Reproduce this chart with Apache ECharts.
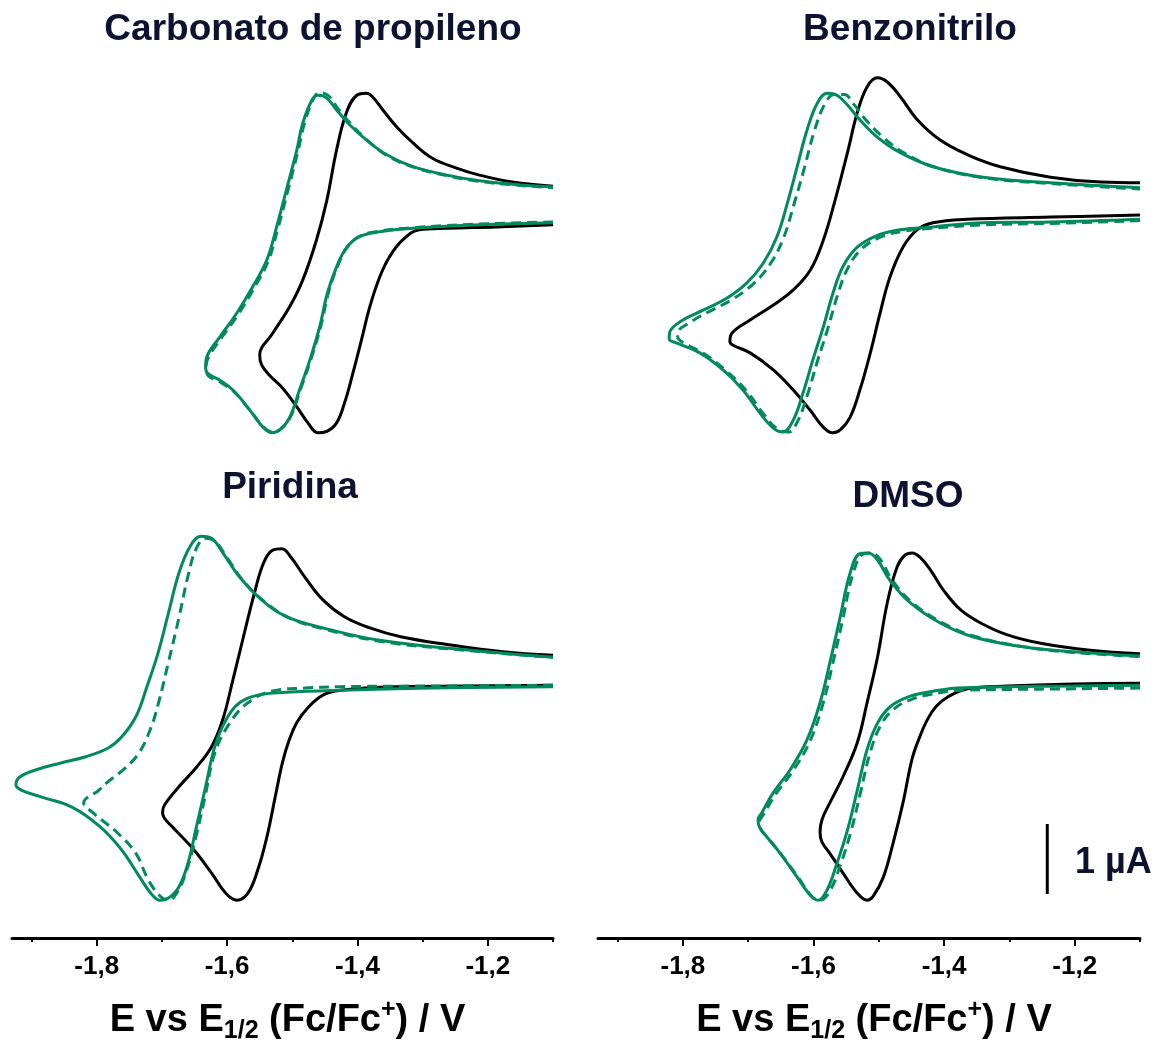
<!DOCTYPE html>
<html><head><meta charset="utf-8">
<script src="https://cdn.jsdelivr.net/npm/echarts@6/dist/echarts.min.js"></script>
<style>html,body{margin:0;padding:0;background:#fff}#c{width:1156px;height:1042px}</style>
</head><body><div id="c"></div>
<script>
// ---------- labels ----------
const panelTitles = ['Carbonato de propileno', 'Benzonitrilo', 'Piridina', 'DMSO'];
const majorTicks = [-1.8, -1.6, -1.4, -1.2];
const minorTicks = [-1.9, -1.7, -1.5, -1.3, -1.1];
const xMin = -1.93, xMax = -1.1;
const scaleBarE = [-1.242, -1.242];
const scaleBarI = [0.63, 1.63];
const scaleBarLabel = '1 µA';

// ---------- Carbonato de propileno (E / V, I / µA) ----------
const pcBlackE = [-1.100,-1.187,-1.263,-1.305,-1.331,-1.351,-1.366,-1.381,-1.394,-1.407,-1.420,-1.432,-1.447,-1.461,-1.476,-1.493,-1.515,-1.535,-1.547,-1.550,
  -1.530,-1.504,-1.484,-1.463,-1.447,-1.432,-1.417,-1.401,-1.386,-1.377,-1.361,-1.340,-1.315,-1.285,-1.248,-1.213,-1.162,-1.100];
const pcBlackI = [3.36,3.33,3.31,3.29,3.14,2.90,2.61,2.19,1.71,1.24,0.81,0.53,0.41,0.39,0.53,0.76,1.03,1.21,1.36,1.50,
  1.81,2.19,2.57,3.14,3.71,4.43,4.96,5.21,5.24,5.19,5.00,4.76,4.53,4.31,4.17,4.07,3.97,3.91];
const pcGreenE = [-1.100,-1.213,-1.315,-1.366,-1.397,-1.417,-1.432,-1.446,-1.458,-1.473,-1.489,-1.504,-1.519,-1.532,-1.545,-1.565,-1.591,-1.611,-1.630,-1.633,
  -1.630,-1.611,-1.585,-1.561,-1.539,-1.524,-1.509,-1.493,-1.484,-1.470,-1.461,-1.447,-1.432,-1.412,-1.386,-1.355,-1.315,-1.263,-1.213,-1.162,-1.100];
const pcGreenI = [3.39,3.36,3.31,3.26,3.19,3.03,2.76,2.39,1.90,1.43,1.00,0.61,0.43,0.39,0.47,0.71,1.00,1.14,1.24,1.33,
  1.50,1.76,2.10,2.47,2.86,3.33,3.86,4.43,4.81,5.14,5.21,5.17,5.00,4.79,4.57,4.36,4.19,4.07,3.99,3.94,3.90];
const pcDashE = [-1.100,-1.213,-1.315,-1.366,-1.396,-1.415,-1.430,-1.444,-1.456,-1.471,-1.487,-1.502,-1.517,-1.530,-1.544,-1.564,-1.590,-1.612,-1.630,-1.632,
  -1.628,-1.609,-1.583,-1.559,-1.537,-1.522,-1.507,-1.491,-1.481,-1.467,-1.458,-1.444,-1.430,-1.410,-1.384,-1.353,-1.313,-1.262,-1.212,-1.161,-1.100];
const pcDashI = [3.40,3.37,3.32,3.27,3.20,3.05,2.78,2.41,1.92,1.45,1.02,0.63,0.45,0.40,0.47,0.70,0.98,1.12,1.22,1.35,
  1.48,1.74,2.08,2.45,2.84,3.31,3.84,4.42,4.82,5.17,5.25,5.20,5.02,4.80,4.56,4.34,4.18,4.06,3.98,3.93,3.89];

// ---------- Benzonitrilo ----------
const bnBlackE = [-1.100,-1.237,-1.364,-1.417,-1.441,-1.463,-1.483,-1.498,-1.513,-1.529,-1.544,-1.559,-1.571,-1.585,-1.605,-1.631,-1.662,-1.697,-1.723,-1.728,
  -1.725,-1.697,-1.662,-1.631,-1.605,-1.585,-1.567,-1.548,-1.533,-1.518,-1.502,-1.487,-1.467,-1.441,-1.406,-1.364,-1.314,-1.237,-1.160,-1.100];
const bnBlackI = [3.50,3.47,3.44,3.39,3.29,3.04,2.61,2.10,1.53,1.00,0.61,0.43,0.39,0.47,0.71,1.00,1.29,1.53,1.64,1.69,
  1.81,2.00,2.21,2.43,2.71,3.14,3.71,4.39,4.96,5.33,5.46,5.40,5.19,4.86,4.57,4.36,4.19,4.04,3.97,3.96];
const bnGreenE = [-1.100,-1.237,-1.340,-1.417,-1.467,-1.502,-1.533,-1.555,-1.570,-1.585,-1.601,-1.616,-1.631,-1.647,-1.662,-1.682,-1.708,-1.739,-1.774,-1.809,-1.821,
  -1.820,-1.800,-1.769,-1.733,-1.702,-1.677,-1.656,-1.640,-1.625,-1.610,-1.594,-1.579,-1.564,-1.548,-1.529,-1.502,-1.467,-1.417,-1.340,-1.237,-1.100];
const bnGreenI = [3.44,3.40,3.39,3.33,3.29,3.21,3.04,2.76,2.39,1.90,1.43,0.96,0.57,0.40,0.46,0.67,1.00,1.29,1.53,1.67,1.73,
  1.83,2.00,2.14,2.31,2.53,2.81,3.19,3.67,4.19,4.71,5.10,5.24,5.21,5.07,4.86,4.61,4.39,4.19,4.04,3.96,3.89];
const bnDashE = [-1.100,-1.237,-1.340,-1.417,-1.462,-1.496,-1.527,-1.548,-1.563,-1.578,-1.594,-1.609,-1.624,-1.638,-1.655,-1.676,-1.702,-1.733,-1.768,-1.800,-1.808,
  -1.808,-1.790,-1.760,-1.725,-1.693,-1.667,-1.646,-1.630,-1.614,-1.599,-1.583,-1.568,-1.553,-1.538,-1.520,-1.492,-1.460,-1.413,-1.338,-1.237,-1.100];
const bnDashI = [3.42,3.38,3.36,3.31,3.27,3.19,3.01,2.73,2.36,1.88,1.41,0.94,0.56,0.40,0.44,0.65,0.98,1.27,1.52,1.68,1.76,
  1.81,1.96,2.12,2.29,2.51,2.79,3.17,3.65,4.17,4.69,5.08,5.22,5.22,5.08,4.86,4.60,4.38,4.18,4.03,3.95,3.87];

// ---------- Piridina ----------
const pyBlackE = [-1.100,-1.233,-1.343,-1.426,-1.453,-1.475,-1.493,-1.505,-1.515,-1.525,-1.539,-1.553,-1.568,-1.585,-1.602,-1.624,-1.651,-1.679,-1.696,-1.699,
  -1.696,-1.674,-1.647,-1.624,-1.607,-1.591,-1.575,-1.558,-1.544,-1.530,-1.516,-1.502,-1.481,-1.453,-1.420,-1.381,-1.332,-1.260,-1.177,-1.100];
const pyBlackI = [3.61,3.60,3.59,3.54,3.47,3.30,3.08,2.82,2.51,2.07,1.44,0.97,0.64,0.54,0.64,0.93,1.26,1.54,1.71,1.79,
  1.90,2.16,2.44,2.73,3.11,3.69,4.30,4.93,5.36,5.54,5.56,5.44,5.16,4.83,4.59,4.43,4.30,4.19,4.09,4.04];
const pyGreenE = [-1.100,-1.288,-1.426,-1.509,-1.553,-1.581,-1.602,-1.619,-1.633,-1.647,-1.660,-1.674,-1.690,-1.703,-1.717,-1.734,-1.762,-1.795,-1.838,-1.883,-1.915,-1.924,
  -1.918,-1.894,-1.855,-1.817,-1.783,-1.762,-1.740,-1.723,-1.706,-1.690,-1.674,-1.657,-1.640,-1.624,-1.607,-1.581,-1.547,-1.509,-1.453,-1.371,-1.260,-1.100];
const pyGreenI = [3.59,3.57,3.54,3.51,3.47,3.36,3.11,2.73,2.16,1.59,1.07,0.73,0.57,0.54,0.64,0.87,1.26,1.59,1.87,2.01,2.11,2.19,
  2.30,2.40,2.50,2.59,2.71,2.87,3.16,3.59,4.07,4.64,5.21,5.59,5.74,5.71,5.51,5.16,4.83,4.59,4.43,4.26,4.14,4.01];
const pyDashE = [-1.100,-1.288,-1.426,-1.481,-1.530,-1.568,-1.596,-1.619,-1.634,-1.648,-1.662,-1.676,-1.690,-1.706,-1.723,-1.740,-1.768,-1.806,-1.820,
  -1.797,-1.783,-1.756,-1.734,-1.717,-1.706,-1.690,-1.674,-1.660,-1.647,-1.633,-1.619,-1.602,-1.576,-1.542,-1.504,-1.450,-1.366,-1.259,-1.100];
const pyDashI = [3.61,3.60,3.59,3.57,3.53,3.36,3.07,2.64,2.01,1.44,0.97,0.66,0.54,0.63,0.87,1.21,1.50,1.79,1.93,
  2.11,2.23,2.43,2.66,3.00,3.33,3.94,4.57,5.17,5.57,5.71,5.67,5.46,5.11,4.80,4.57,4.41,4.24,4.13,4.01];

// ---------- DMSO ----------
const dmBlackE = [-1.100,-1.202,-1.303,-1.364,-1.395,-1.412,-1.425,-1.437,-1.449,-1.463,-1.478,-1.493,-1.509,-1.518,-1.533,-1.555,-1.575,-1.587,-1.590,
  -1.587,-1.575,-1.555,-1.533,-1.518,-1.502,-1.487,-1.472,-1.460,-1.449,-1.437,-1.421,-1.401,-1.375,-1.344,-1.303,-1.252,-1.176,-1.100];
const dmBlackI = [3.64,3.63,3.60,3.56,3.44,3.31,3.13,2.88,2.56,1.93,1.36,0.87,0.59,0.54,0.64,0.93,1.21,1.37,1.51,
  1.69,1.93,2.30,2.79,3.36,4.01,4.79,5.30,5.47,5.50,5.44,5.26,4.97,4.69,4.50,4.33,4.21,4.11,4.06];
const dmGreenE = [-1.100,-1.202,-1.303,-1.380,-1.426,-1.456,-1.483,-1.502,-1.518,-1.533,-1.548,-1.564,-1.579,-1.593,-1.605,-1.625,-1.651,-1.671,-1.682,-1.685,
  -1.679,-1.662,-1.636,-1.610,-1.590,-1.575,-1.559,-1.544,-1.529,-1.516,-1.502,-1.483,-1.452,-1.406,-1.355,-1.279,-1.202,-1.100];
const dmGreenI = [3.61,3.60,3.59,3.57,3.51,3.44,3.30,3.07,2.69,2.11,1.54,1.07,0.69,0.54,0.61,0.87,1.21,1.44,1.57,1.69,
  1.79,2.07,2.40,2.83,3.36,3.93,4.59,5.21,5.49,5.50,5.40,5.11,4.79,4.50,4.30,4.16,4.09,4.03];
const dmDashE = [-1.100,-1.202,-1.303,-1.375,-1.420,-1.450,-1.477,-1.497,-1.513,-1.528,-1.543,-1.559,-1.575,-1.590,-1.603,-1.623,-1.650,-1.670,-1.681,-1.683,
  -1.676,-1.659,-1.632,-1.606,-1.586,-1.571,-1.555,-1.540,-1.525,-1.512,-1.498,-1.480,-1.450,-1.404,-1.353,-1.278,-1.202,-1.100];
const dmDashI = [3.57,3.56,3.55,3.54,3.48,3.41,3.27,3.04,2.66,2.08,1.51,1.04,0.67,0.54,0.60,0.86,1.20,1.43,1.56,1.66,
  1.77,2.04,2.38,2.80,3.33,3.90,4.56,5.19,5.48,5.50,5.41,5.12,4.80,4.51,4.31,4.16,4.08,4.02];

// ---------- chart ----------
const FONT = '"Liberation Sans", Arial, Helvetica, sans-serif';
const GREEN = '#008a5e';
const NAVY = '#0c1230';
const pts = (E, I) => E.map((e, k) => [e, I[k]]);
const fmt = v => v.toFixed(1).replace('.', ',');

const panels = [
  {grid: 0, curves: [[pcBlackE, pcBlackI], [pcGreenE, pcGreenI], [pcDashE, pcDashI]]},
  {grid: 1, curves: [[bnBlackE, bnBlackI], [bnGreenE, bnGreenI], [bnDashE, bnDashI]]},
  {grid: 2, curves: [[pyBlackE, pyBlackI], [pyGreenE, pyGreenI], [pyDashE, pyDashI]]},
  {grid: 3, curves: [[dmBlackE, dmBlackI], [dmGreenE, dmGreenI], [dmDashE, dmDashI]]}
];
const styles = [
  {color: '#000', width: 3, type: 'solid'},
  {color: GREEN, width: 3, type: 'solid'},
  {color: GREEN, width: 3, type: [10, 6]}
];

const grids = [
  {left: 12, top: 40, width: 541, height: 420},
  {left: 598, top: 40, width: 542, height: 420},
  {left: 12, top: 448, width: 541, height: 490},
  {left: 598, top: 448, width: 542, height: 490}
].map(g => Object.assign(g, {containLabel: false, outerBoundsMode: 'none'}));

const axisName = '{n|E vs E}{sub|1/2}{n| (Fc/Fc}{sup|+}{n|) / V}';
const nameRich = {
  n: {fontSize: 38, fontWeight: 'bold', fontFamily: FONT, color: '#000', lineHeight: 46},
  sub: {fontSize: 25, fontWeight: 'bold', fontFamily: FONT, color: '#000', lineHeight: 24, verticalAlign: 'bottom'},
  sup: {fontSize: 25, fontWeight: 'bold', fontFamily: FONT, color: '#000', lineHeight: 24, verticalAlign: 'top'}
};

const xAxes = [];
grids.forEach((g, i) => {
  const bottom = i >= 2;
  xAxes.push({
    type: 'value', gridIndex: i, min: xMin, max: xMax, show: bottom, position: 'bottom',
    axisLine: {show: true, onZero: false, lineStyle: {color: '#000', width: 3}},
    axisTick: {show: true, customValues: majorTicks, length: 8, lineStyle: {color: '#000', width: 2}},
    axisLabel: {show: true, customValues: majorTicks, formatter: fmt, margin: 16,
      fontSize: 26, fontWeight: 'bold', fontFamily: FONT, color: '#000'},
    splitLine: {show: false},
    name: bottom ? axisName : '', nameLocation: 'middle', nameGap: 60,
    nameTextStyle: {rich: nameRich, padding: [0, 0, 0, 10]}
  });
});
[2, 3].forEach(i => {
  xAxes.push({
    type: 'value', gridIndex: i, min: xMin, max: xMax, position: 'bottom', offset: 0,
    axisLine: {show: false, onZero: false},
    axisTick: {show: true, customValues: minorTicks, length: 4, lineStyle: {color: '#000', width: 2}},
    axisLabel: {show: false},
    splitLine: {show: false}
  });
});
const yAxes = grids.map((g, i) => ({
  type: 'value', gridIndex: i, min: 0, max: i < 2 ? 6 : 7, show: false, splitLine: {show: false}
}));

const series = [];
panels.forEach(p => {
  p.curves.forEach((c, k) => {
    series.push({
      type: 'line', xAxisIndex: p.grid, yAxisIndex: p.grid,
      data: pts(c[0], c[1]), showSymbol: false, smooth: 0.4,
      lineStyle: styles[k], clip: false, silent: true
    });
  });
});
series.push({
  type: 'line', xAxisIndex: 3, yAxisIndex: 3, data: pts(scaleBarE, scaleBarI),
  showSymbol: false, lineStyle: {color: '#000', width: 3}, silent: true
});

const titlePos = [[313, 30], [910, 30], [290, 488], [908, 497]];
const graphic = panelTitles.map((t, i) => ({
  type: 'text', x: titlePos[i][0], y: titlePos[i][1],
  style: {text: t, fill: NAVY, font: 'bold 37px ' + FONT, textAlign: 'center', textVerticalAlign: 'middle'}
}));
graphic.push({
  type: 'text', x: 1075, y: 863,
  style: {text: scaleBarLabel, fill: NAVY, font: 'bold 36px ' + FONT, textAlign: 'left', textVerticalAlign: 'middle'}
});

const chart = echarts.init(document.getElementById('c'), null, {renderer: 'canvas'});
chart.setOption({
  animation: false,
  backgroundColor: '#fff',
  grid: grids,
  xAxis: xAxes,
  yAxis: yAxes,
  series: series,
  graphic: graphic
});
</script>
</body></html>
